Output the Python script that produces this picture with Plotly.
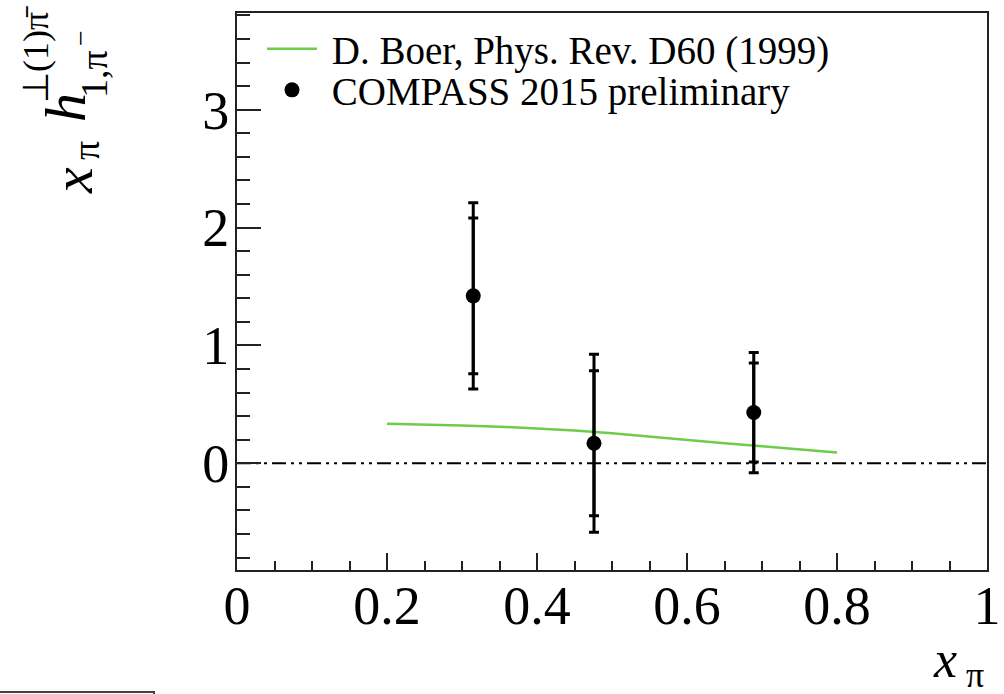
import plotly.graph_objects as go

# Boer (1999) model curve
model_x = [0.20, 0.25, 0.30, 0.35, 0.40, 0.45, 0.50, 0.55, 0.60, 0.65, 0.70, 0.75, 0.80]
model_y = [0.335, 0.330, 0.320, 0.310, 0.295, 0.278, 0.255, 0.225, 0.195, 0.170, 0.145, 0.120, 0.090]

# COMPASS 2015 preliminary points
data_x = [0.315, 0.476, 0.689]
data_y = [1.42, 0.17, 0.43]
data_stat = [0.66, 0.615, 0.42]
data_tot = [0.79, 0.755, 0.51]

# zero reference line
zero_x = [0.0, 1.0]
zero_y = [0.0, 0.0]

x_ticks = [0, 0.2, 0.4, 0.6, 0.8, 1]
x_tick_text = ["0", "0.2", "0.4", "0.6", "0.8", "1"]
y_ticks = [0, 1, 2, 3]
y_tick_text = ["0", "1", "2", "3"]

SERIF = "Liberation Serif"
W, H = 1004, 694
L, R, T, B = 237, 17, 13, 124
PW, PH = W - L - R, H - T - B


def px(xp):
    return (xp - L) / PW


def py(yp):
    return (H - B - yp) / PH


fig = go.Figure()

fig.add_trace(go.Scatter(
    x=zero_x, y=zero_y, mode="lines", showlegend=False, hoverinfo="skip",
    line=dict(color="black", width=2, dash="14px,5px,3px,5px,3px,5px"),
))

fig.add_trace(go.Scatter(
    x=model_x, y=model_y, mode="lines", name="\u00a0D. Boer, Phys. Rev. D60 (1999)",
    line=dict(color="#6fcb4a", width=2.5), legend="legend",
))

# total uncertainty (outer caps)
fig.add_trace(go.Scatter(
    x=data_x, y=data_y, mode="markers", showlegend=False, hoverinfo="skip",
    marker=dict(size=1, color="rgba(0,0,0,0)"),
    error_y=dict(type="data", array=data_tot, color="black", thickness=3, width=5),
))

# statistical uncertainty (inner caps) with markers
fig.add_trace(go.Scatter(
    x=data_x, y=data_y, mode="markers", name="\u00a0COMPASS 2015 preliminary",
    marker=dict(size=15, color="black"), legend="legend2",
    error_y=dict(type="data", array=data_stat, color="black", thickness=3, width=5),
))

axis_common = dict(
    showline=True, linecolor="#222", linewidth=2, mirror=True, automargin=False,
    showgrid=False, zeroline=False, ticks="inside", tickcolor="#222",
    tickwidth=2, tickfont=dict(family=SERIF, size=54, color="black"),
)

fig.update_xaxes(
    range=[0, 1], tickvals=x_ticks, ticktext=x_tick_text, ticklen=17,
    ticklabelstandoff=-13,
    minor=dict(dtick=0.05, ticks="inside", ticklen=9, tickcolor="#222", tickwidth=2),
    **axis_common,
)
fig.update_yaxes(
    range=[-0.906, 3.82], tickvals=y_ticks, ticktext=y_tick_text, ticklen=24,
    ticklabelstandoff=-5,
    minor=dict(dtick=0.2, ticks="inside", ticklen=13, tickcolor="#222", tickwidth=2),
    **axis_common,
)

annotations = [
    # x-axis title
    dict(text="<i>x</i>", x=px(945), y=py(659), font=dict(size=52)),
    dict(text="π", x=px(975), y=py(675), font=dict(size=36)),
    # y-axis title, rotated
    dict(text="<i>x</i>", x=px(72), y=py(181), font=dict(size=58), textangle=-90),
    dict(text="π", x=px(86), y=py(151), font=dict(size=38), textangle=-90),
    dict(text="<i>h</i>", x=px(66), y=py(108), font=dict(size=58), textangle=-90),
    dict(text="⊥(1)π\u0304", x=px(36), y=py(55), font=dict(size=36), textangle=-90),
    dict(text="1,π", x=px(94), y=py(74), font=dict(size=38), textangle=-90),
    dict(text="−", x=px(80), y=py(38), font=dict(size=28), textangle=-90),
]
for a in annotations:
    a.update(xref="paper", yref="paper", showarrow=False,
             xanchor="center", yanchor="middle")
    a["font"].update(family=SERIF, color="black")

legend_common = dict(
    xanchor="left", yanchor="middle", bgcolor="rgba(0,0,0,0)", itemwidth=50,
    font=dict(family=SERIF, size=39, color="black"),
)

fig.update_layout(
    width=W, height=H,
    margin=dict(l=L, r=R, t=T, b=B, autoexpand=False),
    paper_bgcolor="white", plot_bgcolor="white",
    annotations=annotations,
    showlegend=True,
    legend=dict(x=px(262), y=py(49), **legend_common),
    legend2=dict(x=px(262), y=py(90), **legend_common),
    shapes=[
        dict(type="rect", xref="paper", yref="paper",
             x0=px(-5), x1=px(154), y0=py(705), y1=py(692),
             line=dict(color="#444", width=2)),
    ],
)

fig.write_html("out.html")
